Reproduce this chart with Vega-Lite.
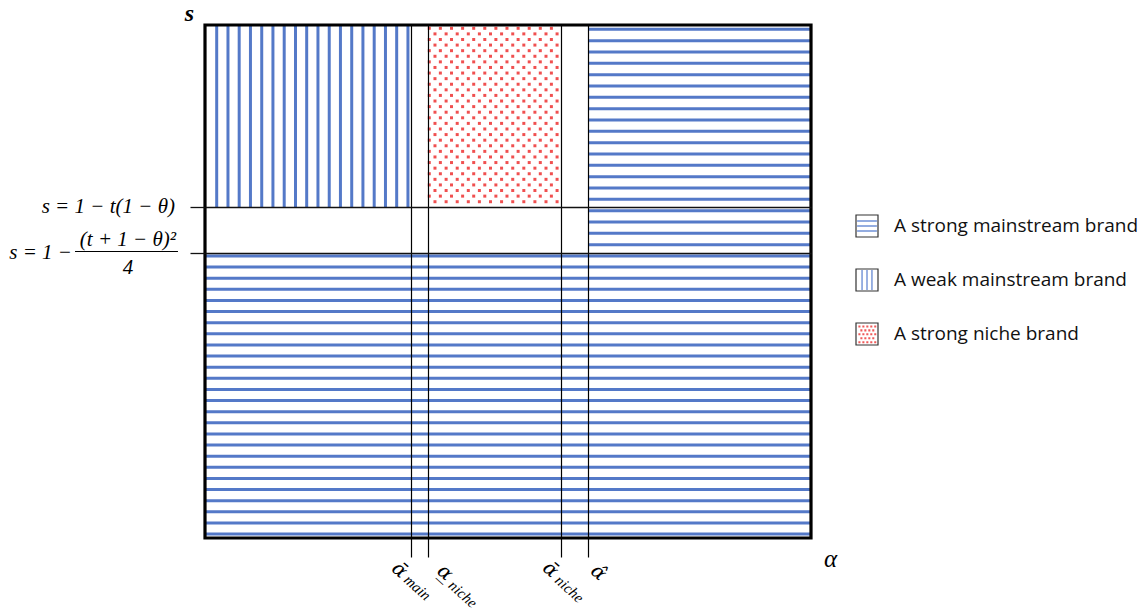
{
  "$schema": "https://vega.github.io/schema/vega-lite/v6.json",
  "width": 606,
  "height": 513,
  "autosize": {"type": "none"},
  "padding": {"left": 205, "top": 25, "right": 334, "bottom": 73},
  "background": "white",
  "config": {"view": {"stroke": null}},
  "datasets": {
    "regions": [
      {"brand": "A strong mainstream brand", "pattern": "A strong mainstream brand", "a1": 0.6325, "a2": 1, "s1": 0, "s2": 1},
      {"brand": "A strong mainstream brand", "pattern": "A strong mainstream brand", "a1": 0, "a2": 0.6325, "s1": 0, "s2": 0.555},
      {"brand": "A weak mainstream brand", "pattern": "A weak mainstream brand", "a1": 0, "a2": 0.3394, "s1": 0.6446, "s2": 1},
      {"brand": "A strong niche brand", "pattern": "A strong niche brand", "a1": 0.368, "a2": 0.5875, "s1": 0.6446, "s2": 1}
    ],
    "hstripes": [
      {"a1": 0, "a2": 1, "ss": [0.54971, 0.52803, 0.50636, 0.48468, 0.463, 0.44133, 0.41965, 0.39797, 0.3763, 0.35462, 0.33294, 0.31127, 0.28959, 0.26791, 0.24624, 0.22456, 0.20288, 0.18121, 0.15953, 0.13785, 0.11618, 0.0945, 0.07283, 0.05115, 0.02947, 0.0078]},
      {"a1": 0.6325, "a2": 1, "ss": [0.99162, 0.96952, 0.94743, 0.92533, 0.90324, 0.88114, 0.85904, 0.83695, 0.81485, 0.79276, 0.77066, 0.74857, 0.72647, 0.70437, 0.68228, 0.66018, 0.63809, 0.61599, 0.5939, 0.5718]}
    ],
    "vstripes": [
      {"s1": 0.6446, "s2": 1, "as": [0.0193, 0.0379, 0.0564, 0.075, 0.0936, 0.1121, 0.1307, 0.1493, 0.1678, 0.1864, 0.205, 0.2235, 0.2421, 0.2606, 0.2792, 0.2978, 0.3163, 0.3349]}
    ],
    "dots": [
      {"xs": [0.3701, 0.3884, 0.4068, 0.4251, 0.4434, 0.4617, 0.48, 0.4983, 0.5167, 0.535, 0.5533, 0.5716], "ys": [0.99357, 0.97176, 0.94995, 0.92814, 0.90633, 0.88452, 0.86272, 0.84091, 0.8191, 0.79729, 0.77548, 0.75367, 0.73186, 0.71005, 0.68824, 0.66644]},
      {"xs": [0.3795, 0.3979, 0.4162, 0.4345, 0.4528, 0.4711, 0.4894, 0.5078, 0.5261, 0.5444, 0.5627, 0.581], "ys": [0.98267, 0.96086, 0.93905, 0.91724, 0.89543, 0.87362, 0.85181, 0.83, 0.8082, 0.78639, 0.76458, 0.74277, 0.72096, 0.69915, 0.67734, 0.65553]}
    ],
    "leftRight": [
      {"t": "s = 1 − t(1 − θ)", "a": -0.0495, "s": 0.6446},
      {"t": "s = 1 −", "a": -0.2195, "s": 0.555}
    ],
    "leftCenter": [
      {"t": "(t + 1 − θ)²", "a": -0.1271, "s": 0.5809},
      {"t": "4", "a": -0.1271, "s": 0.5263}
    ],
    "fracBar": [{"a1": -0.2145, "a2": -0.0446, "s": 0.5585}],
    "tickMain": [
      {"t": "\u1fb1", "a": 0.321, "s": -0.0624},
      {"t": "\u03b1\u0332", "a": 0.396, "s": -0.0673},
      {"t": "\u1fb1", "a": 0.5701, "s": -0.0614},
      {"t": "\u03b1\u0302", "a": 0.6493, "s": -0.0673}
    ],
    "tickSub": [
      {"t": "main", "a": 0.3507, "s": -0.0965},
      {"t": "niche", "a": 0.4257, "s": -0.1092},
      {"t": "niche", "a": 0.6015, "s": -0.0994}
    ],
    "frame": [{"a1": 0, "a2": 1, "s1": 0, "s2": 1}]
  },
  "layer": [
    {
      "data": {"name": "regions"},
      "mark": {"type": "rect", "strokeWidth": 0},
      "encoding": {
        "x": {"field": "a1", "type": "quantitative", "scale": {"domain": [0, 1], "nice": false, "zero": false},
          "axis": {"values": [0.3394, 0.368, 0.5875, 0.6325], "labels": false, "domain": false, "ticks": true, "tickSize": 19, "tickColor": "#000", "tickWidth": 1.2, "grid": true, "gridColor": "#000", "gridWidth": 1.2, "gridOpacity": 1, "zindex": 1,
            "title": "α", "titleFont": "Liberation Serif", "titleFontStyle": "italic", "titleFontWeight": "normal", "titleFontSize": 25, "titleColor": "#000", "titleX": 625, "titleY": 20, "titleAlign": "center", "titleBaseline": "middle", "titleAngle": 0}},
        "x2": {"field": "a2"},
        "y": {"field": "s1", "type": "quantitative", "scale": {"domain": [0, 1], "nice": false, "zero": false},
          "axis": {"values": [0.555, 0.6446], "labels": false, "domain": false, "ticks": true, "tickSize": 15, "tickColor": "#111", "tickWidth": 1.3, "grid": true, "gridColor": "#111", "gridWidth": 1.3, "gridOpacity": 1, "zindex": 1,
            "title": "s", "titleFont": "Liberation Serif", "titleFontStyle": "italic", "titleFontWeight": "bold", "titleFontSize": 24, "titleColor": "#000", "titleX": -16, "titleY": -12, "titleAlign": "center", "titleBaseline": "middle", "titleAngle": 0}},
        "y2": {"field": "s2"},
        "color": {"field": "brand", "type": "nominal",
          "scale": {"domain": ["A strong mainstream brand", "A weak mainstream brand", "A strong niche brand"], "range": ["transparent", "transparent", "transparent"]},
          "legend": {"orient": "none", "legendX": 650, "legendY": 189, "title": null, "padding": 0,
            "symbolType": "square", "symbolSize": 484, "symbolStrokeColor": "#333", "symbolStrokeWidth": 1.2, "symbolOpacity": 1,
            "labelFont": "Open Sans", "labelFontSize": 19, "labelColor": "#111", "labelOffset": 15, "labelLimit": 400, "rowPadding": 26}}
      }
    },
    {
      "data": {"name": "regions"},
      "mark": {"type": "point", "opacity": 0, "size": 10, "filled": false},
      "encoding": {
        "x": {"field": "a1", "type": "quantitative", "scale": {"domain": [0, 1], "nice": false, "zero": false}},
        "y": {"field": "s1", "type": "quantitative", "scale": {"domain": [0, 1], "nice": false, "zero": false}},
        "shape": {"field": "pattern", "type": "nominal",
          "scale": {"domain": ["A strong niche brand", "A weak mainstream brand", "A strong mainstream brand"],
            "range": ["M-1,-1M1,1M-0.72,-0.72h0.06v0.06h-0.06zM-0.36,-0.72h0.06v0.06h-0.06zM0,-0.72h0.06v0.06h-0.06zM0.36,-0.72h0.06v0.06h-0.06zM0.72,-0.72h0.06v0.06h-0.06zM-0.54,-0.36h0.06v0.06h-0.06zM-0.18,-0.36h0.06v0.06h-0.06zM0.18,-0.36h0.06v0.06h-0.06zM0.54,-0.36h0.06v0.06h-0.06zM-0.72,0h0.06v0.06h-0.06zM-0.36,0h0.06v0.06h-0.06zM0,0h0.06v0.06h-0.06zM0.36,0h0.06v0.06h-0.06zM0.72,0h0.06v0.06h-0.06zM-0.54,0.36h0.06v0.06h-0.06zM-0.18,0.36h0.06v0.06h-0.06zM0.18,0.36h0.06v0.06h-0.06zM0.54,0.36h0.06v0.06h-0.06zM-0.72,0.72h0.06v0.06h-0.06zM-0.36,0.72h0.06v0.06h-0.06zM0,0.72h0.06v0.06h-0.06zM0.36,0.72h0.06v0.06h-0.06zM0.72,0.72h0.06v0.06h-0.06z", "M-1,-1M1,1M-0.45,-0.9V0.9M0,-0.9V0.9M0.45,-0.9V0.9", "M-1,-1M1,1M-0.9,-0.45H0.9M-0.9,0H0.9M-0.9,0.45H0.9"]},
          "legend": {"orient": "none", "legendX": 650, "legendY": 189, "title": null, "padding": 0,
            "values": ["A strong mainstream brand", "A weak mainstream brand", "A strong niche brand"],
            "symbolSize": 484, "symbolStrokeWidth": 1.4, "symbolOpacity": 1, "symbolFillColor": "transparent",
            "labelExpr": "''", "labelFont": "Open Sans", "labelFontSize": 17, "labelOffset": 15, "labelLimit": 400, "rowPadding": 26}},
        "stroke": {"field": "pattern", "type": "nominal",
          "scale": {"domain": ["A strong niche brand", "A weak mainstream brand", "A strong mainstream brand"], "range": ["#f05a5a", "#7091d6", "#7091d6"]},
          "legend": {"orient": "none", "legendX": 650, "legendY": 189, "title": null, "padding": 0,
            "values": ["A strong mainstream brand", "A weak mainstream brand", "A strong niche brand"],
            "symbolSize": 484, "symbolStrokeWidth": 1.4, "symbolOpacity": 1, "symbolFillColor": "transparent",
            "labelExpr": "''", "labelFont": "Open Sans", "labelFontSize": 17, "labelOffset": 15, "labelLimit": 400, "rowPadding": 26}}
      }
    },
    {
      "data": {"name": "hstripes"},
      "transform": [{"flatten": ["ss"]}],
      "mark": {"type": "rule", "color": "#5479c8", "strokeWidth": 3},
      "encoding": {
        "x": {"field": "a1", "type": "quantitative", "scale": {"domain": [0, 1], "nice": false, "zero": false}},
        "x2": {"field": "a2"},
        "y": {"field": "ss", "type": "quantitative", "scale": {"domain": [0, 1], "nice": false, "zero": false}}
      }
    },
    {
      "data": {"name": "vstripes"},
      "transform": [{"flatten": ["as"]}],
      "mark": {"type": "rule", "color": "#5479c8", "strokeWidth": 3},
      "encoding": {
        "x": {"field": "as", "type": "quantitative", "scale": {"domain": [0, 1], "nice": false, "zero": false}},
        "y": {"field": "s1", "type": "quantitative", "scale": {"domain": [0, 1], "nice": false, "zero": false}},
        "y2": {"field": "s2"}
      }
    },
    {
      "data": {"name": "dots"},
      "transform": [{"flatten": ["xs"]}, {"flatten": ["ys"]}],
      "mark": {"type": "point", "shape": "square", "filled": true, "size": 9, "color": "#ee3d3d", "opacity": 0.9},
      "encoding": {
        "x": {"field": "xs", "type": "quantitative", "scale": {"domain": [0, 1], "nice": false, "zero": false}},
        "y": {"field": "ys", "type": "quantitative", "scale": {"domain": [0, 1], "nice": false, "zero": false}}
      }
    },
    {
      "data": {"name": "frame"},
      "mark": {"type": "rect", "fill": null, "filled": false, "stroke": "#000", "strokeWidth": 3.2},
      "encoding": {
        "x": {"field": "a1", "type": "quantitative", "scale": {"domain": [0, 1], "nice": false, "zero": false}},
        "x2": {"field": "a2"},
        "y": {"field": "s1", "type": "quantitative", "scale": {"domain": [0, 1], "nice": false, "zero": false}},
        "y2": {"field": "s2"}
      }
    },
    {
      "data": {"name": "fracBar"},
      "mark": {"type": "rule", "color": "#000", "strokeWidth": 1.2},
      "encoding": {
        "x": {"field": "a1", "type": "quantitative", "scale": {"domain": [0, 1], "nice": false, "zero": false}},
        "x2": {"field": "a2"},
        "y": {"field": "s", "type": "quantitative", "scale": {"domain": [0, 1], "nice": false, "zero": false}}
      }
    },
    {
      "data": {"name": "leftRight"},
      "mark": {"type": "text", "font": "Liberation Serif", "fontStyle": "italic", "fontSize": 21, "align": "right", "baseline": "middle", "color": "#000"},
      "encoding": {
        "x": {"field": "a", "type": "quantitative", "scale": {"domain": [0, 1], "nice": false, "zero": false}},
        "y": {"field": "s", "type": "quantitative", "scale": {"domain": [0, 1], "nice": false, "zero": false}},
        "text": {"field": "t"}
      }
    },
    {
      "data": {"name": "leftCenter"},
      "mark": {"type": "text", "font": "Liberation Serif", "fontStyle": "italic", "fontSize": 21, "align": "center", "baseline": "middle", "color": "#000"},
      "encoding": {
        "x": {"field": "a", "type": "quantitative", "scale": {"domain": [0, 1], "nice": false, "zero": false}},
        "y": {"field": "s", "type": "quantitative", "scale": {"domain": [0, 1], "nice": false, "zero": false}},
        "text": {"field": "t"}
      }
    },
    {
      "data": {"name": "tickMain"},
      "mark": {"type": "text", "font": "DejaVu Serif", "fontStyle": "italic", "fontSize": 20, "align": "center", "baseline": "middle", "angle": 42, "color": "#000"},
      "encoding": {
        "x": {"field": "a", "type": "quantitative", "scale": {"domain": [0, 1], "nice": false, "zero": false}},
        "y": {"field": "s", "type": "quantitative", "scale": {"domain": [0, 1], "nice": false, "zero": false}},
        "text": {"field": "t"}
      }
    },
    {
      "data": {"name": "tickSub"},
      "mark": {"type": "text", "font": "Liberation Serif", "fontStyle": "italic", "fontSize": 15, "align": "center", "baseline": "middle", "angle": 42, "color": "#000"},
      "encoding": {
        "x": {"field": "a", "type": "quantitative", "scale": {"domain": [0, 1], "nice": false, "zero": false}},
        "y": {"field": "s", "type": "quantitative", "scale": {"domain": [0, 1], "nice": false, "zero": false}},
        "text": {"field": "t"}
      }
    }
  ]
}
